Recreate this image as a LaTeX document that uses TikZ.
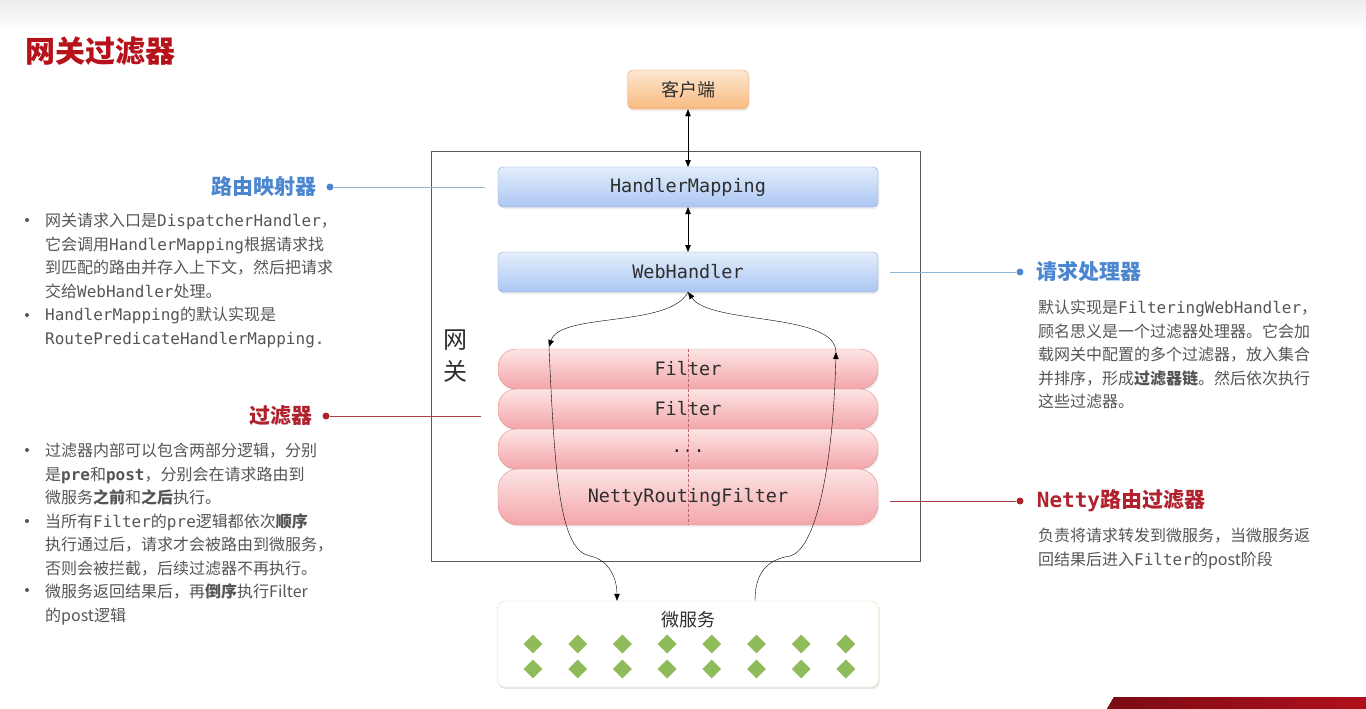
\documentclass[tikz,border=0pt]{standalone}
\usepackage{fontspec}
\setmonofont{DejaVu Sans Mono}
\newfontfamily\cjk{Noto Sans CJK SC}
\usetikzlibrary{positioning,shadows,arrows.meta,shapes.geometric}

\definecolor{titlered}{HTML}{B5121B}
\definecolor{hdblue}{HTML}{4B86CF}
\definecolor{linkblue}{HTML}{8DB6D2}
\definecolor{hdred}{HTML}{B0222E}
\definecolor{linkred}{HTML}{A84048}
\definecolor{bodygray}{HTML}{555555}
\definecolor{boxtext}{HTML}{2E2E2E}
\definecolor{gategray}{HTML}{5A5A5A}
\definecolor{orangetop}{HTML}{FDE6D0}
\definecolor{orangebot}{HTML}{F9BB80}
\definecolor{orangeline}{HTML}{E9A46A}
\definecolor{bluetop}{HTML}{E4EEFC}
\definecolor{bluebot}{HTML}{ABC6F2}
\definecolor{blueline}{HTML}{8AA8D8}
\definecolor{pinktop}{HTML}{FDE4E4}
\definecolor{pinkbot}{HTML}{F3A6AA}
\definecolor{pinkline}{HTML}{E0908F}
\definecolor{msline}{HTML}{D5DAB0}
\definecolor{gemgreen}{HTML}{8FBB5B}
\definecolor{bandred}{HTML}{B0101C}

\tikzset{
    >={Triangle[length=7pt,width=5.5pt]},
    bluebox/.style={
        rectangle,
        rounded corners=5pt,
        draw=blueline,
        top color=bluetop, bottom color=bluebot,
        minimum width=380pt, minimum height=40pt,
        outer sep=0pt,
        text=boxtext,
        font=\ttfamily\fontsize{18.5}{20}\selectfont,
        drop shadow={opacity=0.15, shadow xshift=1pt, shadow yshift=-2pt}
    },
    filterbox/.style={
        rectangle,
        rounded corners=18pt,
        draw=pinkline,
        top color=pinktop, bottom color=pinkbot,
        minimum width=380pt, minimum height=40pt,
        outer sep=0pt,
        text=boxtext,
        font=\ttfamily\fontsize{18.5}{20}\selectfont,
        drop shadow={opacity=0.12, shadow xshift=1pt, shadow yshift=-2pt}
    },
    bodytext/.style={
        align=left,
        inner sep=0pt,
        text=bodygray,
        font=\cjk\fontsize{16}{23.5}\selectfont
    },
    header/.style={
        inner sep=0pt,
        font=\cjk\bfseries\fontsize{21}{24}\selectfont
    },
    labeldot/.style={circle, inner sep=0pt, minimum size=7pt},
    link/.style={line width=0.9pt},
    flow/.style={draw, thin, black, ->}
}

\begin{document}
\begin{tikzpicture}[x=1pt, y=-1pt,
        gem/.style={diamond, fill=gemgreen, inner sep=0pt, minimum size=19pt},
        dashline/.style={draw=linkred!80, thin, dash pattern=on 3pt off 2pt}]
    \useasboundingbox (0,0) rectangle (1366,709);
    \fill[top color=black!7, bottom color=white] (0,0) rectangle (1366,32);

    % title
    \node[anchor=west, inner sep=0pt, text=titlered,
          font=\cjk\bfseries\fontsize{30}{32}\selectfont] (title) at (25,51) {网关过滤器};

    % gateway
    \node[draw=gategray, thin, minimum width=489pt, minimum height=410pt,
          inner sep=0pt] (gw) at (675.5,356) {};
    \node[inner sep=0pt, text=boxtext, align=center,
          font=\cjk\fontsize{24}{32}\selectfont] (gwlabel) at (455,356) {网\\关};

    \node[rectangle, rounded corners=6pt, draw=orangeline,
          top color=orangetop, bottom color=orangebot,
          minimum width=121pt, minimum height=39pt, text=boxtext,
          font=\cjk\fontsize{18}{20}\selectfont,
          drop shadow={opacity=0.15, shadow xshift=1pt, shadow yshift=-2pt}] (client) at (688,89.5) {客户端};

    \node[bluebox] (hm) at (688,187) {HandlerMapping};
    \node[bluebox, below=45pt of hm] (wh) {WebHandler};

    \node[filterbox] (f1) at (688,369) {Filter};
    \node[filterbox, below=0pt of f1] (f2) {Filter};
    \node[filterbox, below=0pt of f2] (f3) {\raisebox{-3pt}[0pt][0pt]{...}};
    \node[filterbox, minimum height=56pt, rounded corners=20pt, below=0pt of f3] (netty) {NettyRoutingFilter};
    \draw[dashline] (f1.north) -- (netty.south);

    % microservices
    \node[rectangle, rounded corners=7pt, draw=msline, fill=white,
          minimum width=381pt, minimum height=86pt, inner sep=0pt,
          drop shadow={opacity=0.18, shadow xshift=1pt, shadow yshift=-2pt}] (ms) at (688,644) {};
    \node[text=boxtext, font=\cjk\fontsize{18}{20}\selectfont] (mslabel) at (688,620) {微服务};
    \foreach \i in {0,...,7} {
        \node[gem] (gemA\i) at (533+44.7*\i,644) {};
        \node[gem] (gemB\i) at (533+44.7*\i,669) {};
    }

    % request / response flow
    \draw[<->, thin] (client) -- (hm);
    \draw[<->, thin] (hm) -- (wh);
    \coordinate (preL) at (549,347);
    \coordinate (postR) at (836,352);
    \coordinate (msin) at ([xshift=-71pt]ms.north);
    \coordinate (msout) at ([xshift=67pt]ms.north);
    \draw[flow] (wh.south) .. controls (670,328) and (560,312) .. (preL);
    \draw[flow] (preL) .. controls (555,480) and (560,550) .. (590,556)
                       .. controls (610,560) and (617,580) .. (msin);
    \draw[flow] (msout) .. controls (755,575) and (765,560) .. (790,556)
                        .. controls (815,550) and (833,470) .. (postR);
    \draw[flow] (postR) .. controls (835,312) and (710,325) .. (wh.south);

    % label: HandlerMapping
    \node[labeldot, fill=hdblue] (mapdot) at (330,187) {};
    \coordinate (mapend) at (485,187);
    \draw[link, linkblue] (mapdot) -- (mapend);
    \node[header, text=hdblue, left=10pt of mapdot] (maptitle) {路由映射器};
    \fill[bodygray] (27,220) circle (2);
    \fill[bodygray] (27,315) circle (2);
    \node[bodytext, anchor=north west] (mapdesc) at (45,213) {网关请求入口是\texttt{DispatcherHandler}，\\
        它会调用\texttt{HandlerMapping}根据请求找\\
        到匹配的路由并存入上下文，然后把请求\\
        交给\texttt{WebHandler}处理。\\
        \texttt{HandlerMapping}的默认实现是\\
        \texttt{RoutePredicateHandlerMapping.}};

    % label: filters
    \node[labeldot, fill=hdred] (filtdot) at (326,416) {};
    \coordinate (filtend) at (481,416);
    \draw[link, linkred] (filtdot) -- (filtend);
    \node[header, text=hdred, left=10pt of filtdot] (filttitle) {过滤器};
    \fill[bodygray] (27,450) circle (2);
    \fill[bodygray] (27,521) circle (2);
    \fill[bodygray] (27,590) circle (2);
    \node[bodytext, anchor=north west] (filtdesc) at (45,443) {过滤器内部可以包含两部分逻辑，分别\\
        是\textbf{\texttt{pre}}和\textbf{\texttt{post}}，分别会在请求路由到\\
        微服务\textbf{之前}和\textbf{之后}执行。\\
        当所有\texttt{Filter}的\texttt{pre}逻辑都依次\textbf{顺序}\\
        执行通过后，请求才会被路由到微服务，\\
        否则会被拦截，后续过滤器不再执行。\\
        微服务返回结果后，再\textbf{倒序}执行Filter\\
        的post逻辑};

    % label: WebHandler
    \node[labeldot, fill=hdblue] (whdot) at (1020,272) {};
    \coordinate (whend) at (890,272);
    \draw[link, linkblue] (whend) -- (whdot);
    \node[header, text=hdblue, right=13pt of whdot] (whtitle) {请求处理器};
    \node[bodytext, anchor=north west] (whdesc) at (1038,300) {默认实现是\texttt{FilteringWebHandler}，\\
        顾名思义是一个过滤器处理器。它会加\\
        载网关中配置的多个过滤器，放入集合\\
        并排序，形成\textbf{过滤器链}。然后依次执行\\
        这些过滤器。};

    % label: NettyRoutingFilter
    \node[labeldot, fill=hdred] (nettydot) at (1020,501) {};
    \coordinate (nettyend) at (890,501);
    \draw[link, linkred] (nettyend) -- (nettydot);
    \node[header, text=hdred, right=13pt of nettydot] (nettytitle) {{\ttfamily\bfseries Netty}路由过滤器};
    \node[bodytext, anchor=north west] (nettydesc) at (1038,528) {负责将请求转发到微服务，当微服务返\\
        回结果后进入\texttt{Filter}的post阶段};

    % corner band
    \fill[left color=bandred!70!black, right color=bandred] (1107,709) -- (1114,697) -- (1366,697) -- (1366,709) -- cycle;
\end{tikzpicture}
\end{document}
